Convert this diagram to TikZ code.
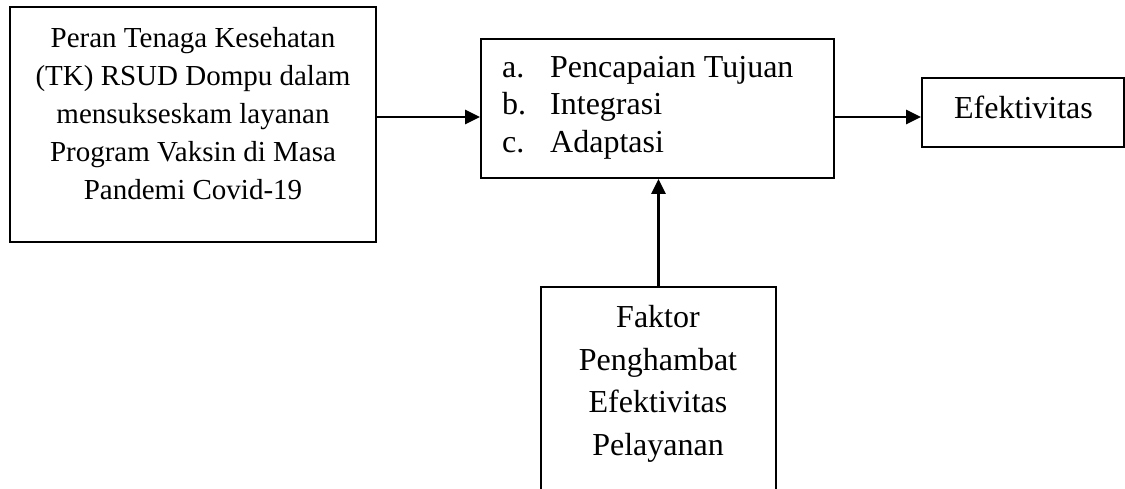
\documentclass[tikz,border=0pt]{standalone}
\usepackage{fontspec}
\setmainfont{Liberation Serif}
\usetikzlibrary{arrows.meta}
\tikzset{
  box/.style={draw=black, line width=1.8pt, inner sep=0pt, fill=none},
  txt/.style={inner sep=0pt, anchor=base, align=center},
  arr/.style={line width=2.4pt, -{Triangle[length=15pt,width=14pt]}}
}
\begin{document}
\begin{tikzpicture}[x=1pt,y=-1pt]
\useasboundingbox (0,0) rectangle (1125,488);
\clip (0,0) rectangle (1125,488);
% boxes
\node[box, minimum width=366pt, minimum height=235pt] (b1) at (193,124.5) {};
\node[box, minimum width=353pt, minimum height=139pt] (b2) at (657.5,108.5) {};
\node[box, minimum width=202pt, minimum height=69pt] (b3) at (1023,112.5) {};
\node[box, minimum width=235pt, minimum height=240pt] (b4) at (658.5,407) {};
% texts (base anchor = last line's baseline)
\node[txt, font=\fontsize{29}{38}\selectfont] (t1) at (193,199)
  {Peran Tenaga Kesehatan\\(TK) RSUD Dompu dalam\\mensukseskam layanan\\Program Vaksin di Masa\\Pandemi Covid-19};
\node[txt, anchor=base west, align=left, font=\fontsize{32}{37.5}\selectfont] (t2) at (502,152)
  {\makebox[48pt][l]{a.}Pencapaian Tujuan\\\makebox[48pt][l]{b.}Integrasi\\\makebox[48pt][l]{c.}Adaptasi};
\node[txt, font=\fontsize{32}{38}\selectfont] (t3) at (1023.5,118) {Efektivitas};
\node[txt, font=\fontsize{32}{42.5}\selectfont] (t4) at (658,455)
  {Faktor\\Penghambat\\Efektivitas\\Pelayanan};
% connectors
\coordinate (ay) at (0,117);
\draw[arr] (b1.east |- ay) -- (b2.west |- ay);
\draw[arr] (b2.east |- ay) -- (b3.west |- ay);
\draw[arr] (b4.north) -- (b4.north |- b2.south);
\end{tikzpicture}
\end{document}
